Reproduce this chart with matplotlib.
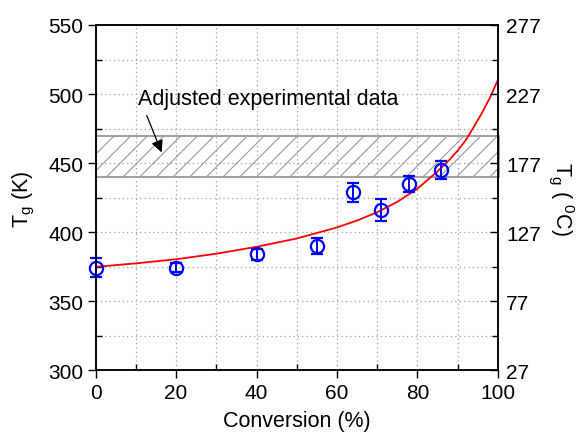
import matplotlib.pyplot as plt
from matplotlib.patches import Rectangle
from matplotlib.ticker import MultipleLocator

plt.rcParams['font.family'] = ['Liberation Sans', 'DejaVu Sans']
plt.rcParams['hatch.color'] = '#999999'
plt.rcParams['hatch.linewidth'] = 0.8

# measured points (conversion %, Tg in K, error)
conv = [0, 20, 40, 55, 64, 71, 78, 86]
tg = [374.5, 374.5, 384, 390, 429, 416, 435, 445]
tg_err = [7, 3, 4, 6, 7, 8, 6, 6.5]

# fitted curve
fit_conv = [0, 10, 20, 30, 40, 50, 60, 65, 70, 75, 80, 85, 88, 90, 92, 94, 96, 98, 100]
fit_tg = [375, 377.5, 380.5, 384.5, 389.5, 395.5, 403.5, 408.5, 414.5, 422, 431.5,
          444, 452.5, 459, 466.5, 476, 486, 497, 510]

band = (440, 470)
left_ticks = [300, 350, 400, 450, 500, 550]
right_ticks = [27, 77, 127, 177, 227, 277]

fig = plt.figure(figsize=(5.81, 4.39), dpi=100)
ax = fig.add_axes([0.1647, 0.1538, 0.692, 0.787])

ax.add_patch(Rectangle((0, band[0]), 100.4, band[1] - band[0], facecolor='none',
                       edgecolor='#999999', hatch='//', linewidth=1.3, zorder=2,
                       clip_on=False))
ax.plot(fit_conv, fit_tg, color='red', lw=1.3, zorder=3)
ax.errorbar(conv, tg, yerr=tg_err, fmt='o', mfc='none', mec='blue', ms=9.5, mew=1.6,
            ecolor='blue', elinewidth=1.4, capsize=4, capthick=1.4, zorder=4,
            clip_on=False)

ax.annotate('', xy=(16.4, 457.8), xytext=(12.7, 484.5),
            arrowprops=dict(arrowstyle='-|>', color='black', lw=0.9,
                            mutation_scale=18, shrinkA=0, shrinkB=0))
ax.text(10.5, 489, 'Adjusted experimental data', fontsize=15.5, va='bottom', ha='left')

ax.set_xlim(0, 100)
ax.set_ylim(300, 550)
ax.set_yticks(left_ticks)
ax.xaxis.set_major_locator(MultipleLocator(20))
ax.xaxis.set_minor_locator(MultipleLocator(10))
ax.yaxis.set_minor_locator(MultipleLocator(25))
ax.grid(True, which='both', color='#a0a0a0', linestyle=(0, (1, 2.5)), linewidth=0.9)
ax.tick_params(which='major', direction='out', length=6, width=1, labelsize=15, pad=3)
ax.tick_params(which='minor', direction='in', length=4, width=1)
ax.set_xlabel('Conversion (%)', fontsize=15.5, labelpad=6)
ax.set_ylabel('T$_\\mathregular{g}$ (K)', fontsize=15.5, labelpad=8)

ax2 = ax.twinx()
ax2.set_ylim(300 - 273, 550 - 273)
ax2.set_yticks(right_ticks)
ax2.set_yticks([52, 102, 152, 202, 252], minor=True)
ax2.tick_params(which='major', direction='in', length=6, width=1, labelsize=15, pad=6)
ax2.tick_params(which='minor', direction='in', length=4, width=1)
ax2.set_ylabel('T$_\\mathregular{g}$ ( $^\\mathregular{0}$C)', fontsize=15.5, rotation=270,
               labelpad=25)

for a in (ax, ax2):
    for s in a.spines.values():
        s.set_linewidth(1.1)

fig.savefig('out.png', dpi=100)
